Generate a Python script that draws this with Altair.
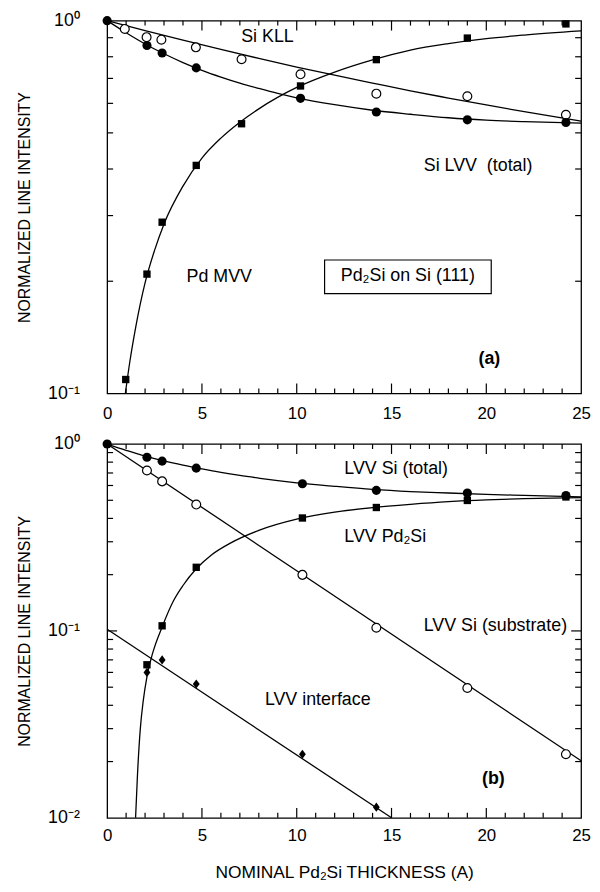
import altair as alt
import pandas as pd

FONT = "Liberation Sans"

# ---------------- Panel (a): Pd2Si on Si(111) ----------------
# measured points
a_lvv_x = [0.0, 2.1, 2.9, 4.7, 10.2, 14.2, 19.0, 24.2]
a_lvv_y = [1.0, 0.858, 0.819, 0.747, 0.619, 0.569, 0.542, 0.533]
a_kll_x = [0.93, 2.08, 2.86, 4.68, 7.09, 10.2, 14.2, 19.0, 24.2]
a_kll_y = [0.95, 0.903, 0.889, 0.848, 0.788, 0.718, 0.637, 0.627, 0.559]
a_pd_x = [0.98, 2.1, 2.9, 4.7, 7.09, 10.2, 14.2, 19.0, 24.2]
a_pd_y = [0.109, 0.209, 0.288, 0.409, 0.529, 0.668, 0.786, 0.898, 0.98]

# drawn curves
a_kll_fit_x = [0, 2, 4, 6, 8, 10, 12, 14, 16, 18, 20, 22, 25]
a_kll_fit_y = [1.0, 0.94, 0.886, 0.837, 0.792, 0.751, 0.714, 0.68, 0.648, 0.62, 0.594, 0.57, 0.538]
a_lvv_fit_x = [0, 1, 2, 3, 4, 5, 6, 7, 8, 9, 10, 12, 14, 16, 18, 20, 22, 25]
a_lvv_fit_y = [1.0, 0.928, 0.866, 0.815, 0.772, 0.736, 0.706, 0.68, 0.658, 0.638, 0.621,
               0.595, 0.575, 0.561, 0.549, 0.541, 0.536, 0.531]
a_pd_fit_x = [0.96, 1.2, 1.5, 2.0, 2.5, 3.0, 4.0, 5.0, 6.0, 7.0, 8.0, 10.0, 12.0, 14.0,
              16.0, 18.0, 20.0, 22.0, 25.0]
a_pd_fit_y = [0.1, 0.122, 0.15, 0.198, 0.242, 0.285, 0.36, 0.428, 0.484, 0.534, 0.58, 0.662,
              0.728, 0.785, 0.834, 0.868, 0.895, 0.915, 0.939]

a_lab_text = ["Si KLL", "Si LVV\u00a0 (total)", "Pd MVV"]
a_lab_x = [7.07, 16.7, 4.19]
a_lab_y = [0.905, 0.408, 0.2056]
a_box_text = ["Pd\u2082Si on Si (111)"]
a_box_cx = [15.86]
a_box_cy = [0.207]
a_box_x1, a_box_x2, a_box_y1, a_box_y2 = [11.47], [20.26], [0.1853], [0.228]
a_tag = ["(a)"]
a_tag_x, a_tag_y = [20.16], [0.1237]

# ---------------- Panel (b) ----------------
b_tot_x = [0.0, 2.1, 2.9, 4.7, 10.3, 14.2, 19.0, 24.2]
b_tot_y = [1.0, 0.85, 0.81, 0.743, 0.613, 0.565, 0.547, 0.53]
b_sub_x = [2.1, 2.9, 4.7, 10.3, 14.2, 19.0, 24.2]
b_sub_y = [0.722, 0.631, 0.4745, 0.1995, 0.104, 0.0495, 0.0219]
b_pd_x = [2.1, 2.9, 4.7, 10.3, 14.2, 19.0, 24.2]
b_pd_y = [0.0659, 0.1065, 0.219, 0.402, 0.4575, 0.499, 0.521]
b_int_x = [2.1, 2.9, 4.7, 10.3, 14.2]
b_int_y = [0.060, 0.070, 0.052, 0.0219, 0.0114]

b_tot_fit_x = [0, 1, 2, 3, 4, 5, 6, 7, 8, 9, 10, 12, 14, 16, 18, 20, 22, 25]
b_tot_fit_y = [1.0, 0.926, 0.862, 0.812, 0.771, 0.736, 0.705, 0.679, 0.657, 0.637, 0.62,
               0.594, 0.572, 0.557, 0.547, 0.538, 0.531, 0.522]
b_sub_fit_x = [0, 25]
b_sub_fit_y = [1.0, 0.0202]
b_int_fit_x = [0, 15.0]
b_int_fit_y = [0.102, 0.01]
b_pd_fit_x = [1.5, 1.6, 1.75, 1.9, 2.1, 2.4, 2.9, 3.5, 4.0, 4.7, 5.5, 6.5, 8.0, 10.0, 12.0,
              14.0, 16.0, 18.0, 20.0, 22.0, 25.0]
b_pd_fit_y = [0.01, 0.017, 0.03, 0.042, 0.057, 0.076, 0.105, 0.145, 0.175, 0.215, 0.255,
              0.295, 0.345, 0.396, 0.432, 0.457, 0.476, 0.492, 0.503, 0.51, 0.517]

b_lab_text = ["LVV Si (total)", "LVV Pd\u2082Si", "LVV Si (substrate)", "LVV interface"]
b_lab_x = [12.51, 12.51, 16.7, 8.32]
b_lab_y = [0.737, 0.317, 0.1056, 0.0428]
b_tag = ["(b)"]
b_tag_x, b_tag_y = [20.37], [0.0161]

# tick positions
x_minor = [1, 2, 3, 4, 6, 7, 8, 9, 11, 12, 13, 14, 16, 17, 18, 19, 21, 22, 23, 24]
x_major = [5, 10, 15, 20]
x_label_vals = [0, 5, 10, 15, 20, 25]
a_y_minor = [0.2, 0.3, 0.4, 0.5, 0.6, 0.7, 0.8, 0.9]
a_y_labels = [0.1, 1.0]
b_y_minor = [0.02, 0.03, 0.04, 0.05, 0.06, 0.07, 0.08, 0.09,
             0.2, 0.3, 0.4, 0.5, 0.6, 0.7, 0.8, 0.9]
b_y_major = [0.1]
b_y_labels = [0.01, 0.1, 1.0]

W = 478
XT = "NOMINAL Pd\u2082Si THICKNESS (A)"
YT = "NORMALIZED LINE INTENSITY"
LABEL_EXPR = "'10' + (datum.value >= 0.5 ? '\u2070' : (datum.value >= 0.05 ? '\u207b\u00b9' : '\u207b\u00b2'))"


def xenc(title, lpad):
    ax = dict(values=x_label_vals, ticks=False, domain=False, grid=False, labelFont=FONT,
              labelFontSize=17, labelColor="black", labelPadding=lpad, labelFlush=False,
              format="d", title=title, titleFont=FONT, titleFontSize=17.5,
              titleFontWeight="normal", titleColor="black", titlePadding=20)
    return alt.X("x:Q", scale=alt.Scale(domain=[0, 25], nice=False, zero=False), axis=alt.Axis(**ax))


def yenc(dom, vals):
    return alt.Y("y:Q", scale=alt.Scale(type="log", domain=dom, nice=False),
                 axis=alt.Axis(values=vals, ticks=False, domain=False, grid=False,
                               labelExpr=LABEL_EXPR, labelFont=FONT, labelFontSize=18,
                               labelColor="black", labelPadding=28, labelBaseline="middle",
                               title=YT, titleFont=FONT, titleFontSize=16,
                               titleFontWeight="normal", titleColor="black", titlePadding=15))


def df(xs, ys, **extra):
    d = {"x": xs, "y": ys}
    d.update(extra)
    return pd.DataFrame(d)


def panel(H, dom, yvals, title, lpad, curves, pts, labels, box, tag, y_minor, y_major):
    X = xenc(title, lpad)
    Y = yenc(dom, yvals)
    layers = []
    for cx, cy in curves:
        layers.append(alt.Chart(df(cx, cy)).mark_line(color="black", strokeWidth=1.3,
                                                      interpolate="monotone").encode(x=X, y=Y))
    if box is not None:
        bx1, bx2, by1, by2, btxt, bcx, bcy = box
        layers.append(alt.Chart(pd.DataFrame({"x": bx1, "x2": bx2, "y": by1, "y2": by2}))
                      .mark_rect(fill="white", stroke="black", strokeWidth=1.2)
                      .encode(x=X, x2="x2:Q", y=Y, y2="y2:Q"))
        layers.append(alt.Chart(df(bcx, bcy, t=btxt)).mark_text(
            font=FONT, fontSize=18, color="black", align="center", baseline="middle")
            .encode(x=X, y=Y, text="t:N"))
    for (px, py, kind) in pts:
        d = df(px, py)
        if kind == "filled":
            m = alt.Chart(d).mark_point(shape="circle", filled=True, size=85, color="black", opacity=1)
        elif kind == "open":
            m = alt.Chart(d).mark_point(shape="circle", filled=True, size=80, fill="white",
                                        stroke="black", strokeWidth=1.2, opacity=1)
        elif kind == "square":
            m = alt.Chart(d).mark_point(shape="square", filled=True, size=55, color="black", opacity=1)
        else:
            m = alt.Chart(d).mark_point(shape="M0,-1L0.75,0L0,1L-0.75,0Z", filled=True, size=85,
                                        color="black", opacity=1)
        layers.append(m.encode(x=X, y=Y))
    lt, lx, ly = labels
    layers.append(alt.Chart(df(lx, ly, t=lt)).mark_text(
        font=FONT, fontSize=18, color="black", align="left", baseline="middle")
        .encode(x=X, y=Y, text="t:N"))
    tt, tx, ty = tag
    layers.append(alt.Chart(df(tx, ty, t=tt)).mark_text(
        font=FONT, fontSize=18, fontWeight="bold", color="black", align="center", baseline="middle")
        .encode(x=X, y=Y, text="t:N"))
    # inward ticks
    for vals, ln in ((x_minor, 5), (x_major, 10)):
        d = pd.DataFrame({"x": vals})
        layers.append(alt.Chart(d).mark_rule(color="black", strokeWidth=1.2)
                      .encode(x=X, y=alt.value(0), y2=alt.value(ln)))
        layers.append(alt.Chart(d).mark_rule(color="black", strokeWidth=1.2)
                      .encode(x=X, y=alt.value(H), y2=alt.value(H - ln)))
    for vals, ln in ((y_minor, 6), (y_major, 10)):
        if not vals:
            continue
        d = pd.DataFrame({"y": vals})
        layers.append(alt.Chart(d).mark_rule(color="black", strokeWidth=1.2)
                      .encode(y=Y, x=alt.value(0), x2=alt.value(ln)))
        layers.append(alt.Chart(d).mark_rule(color="black", strokeWidth=1.2)
                      .encode(y=Y, x=alt.value(W), x2=alt.value(W - ln)))
    return alt.layer(*layers).properties(width=W, height=H)


top = panel(
    376, [0.1, 1.0], a_y_labels, None, 12,
    [(a_kll_fit_x, a_kll_fit_y), (a_lvv_fit_x, a_lvv_fit_y), (a_pd_fit_x, a_pd_fit_y)],
    [(a_kll_x, a_kll_y, "open"), (a_pd_x, a_pd_y, "square"), (a_lvv_x, a_lvv_y, "filled")],
    (a_lab_text, a_lab_x, a_lab_y),
    (a_box_x1, a_box_x2, a_box_y1, a_box_y2, a_box_text, a_box_cx, a_box_cy),
    (a_tag, a_tag_x, a_tag_y), a_y_minor, [])

bottom = panel(
    377, [0.01, 1.0], b_y_labels, XT, 10,
    [(b_tot_fit_x, b_tot_fit_y), (b_sub_fit_x, b_sub_fit_y), (b_int_fit_x, b_int_fit_y),
     (b_pd_fit_x, b_pd_fit_y)],
    [(b_sub_x, b_sub_y, "open"), (b_pd_x, b_pd_y, "square"), (b_int_x, b_int_y, "diamond"),
     (b_tot_x, b_tot_y, "filled")],
    (b_lab_text, b_lab_x, b_lab_y), None,
    (b_tag, b_tag_x, b_tag_y), b_y_minor, b_y_major)

chart = (alt.vconcat(top, bottom, spacing=12)
         .properties(padding={"left": 8, "top": -1, "right": 0, "bottom": 0}, background="white")
         .configure_view(stroke="black", strokeWidth=1.3))

chart.save("out.html", embed_options={"renderer": "svg", "actions": False})
